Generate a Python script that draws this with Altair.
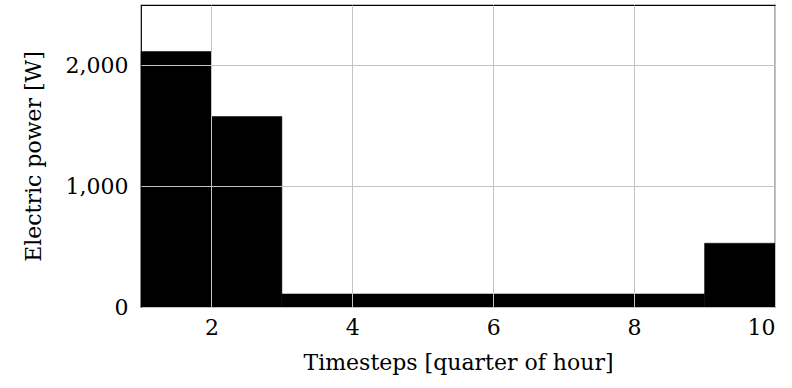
import altair as alt
import pandas as pd

# Electric power per timestep interval (quarter-hour steps)
step_start = [1, 2, 3, 9]
step_end = [2, 3, 9, 10]
power_w = [2115, 1577, 108, 528]

x_ticks = [2, 4, 6, 8, 10]
y_ticks = [0, 1000, 2000]

df = pd.DataFrame({"start": step_start, "end": step_end, "power": power_w})

FONT = "DejaVu Serif"
axis_style = dict(
    grid=True,
    gridColor="#c4c4c4",
    gridWidth=1,
    domain=False,
    ticks=False,
    labelFont=FONT,
    titleFont=FONT,
    labelFontSize=22,
    titleFontSize=22,
    labelColor="black",
    titleColor="black",
    titleFontWeight="normal",
    zindex=1,
)

bars = alt.Chart(df).mark_rect(color="black", stroke="black", strokeWidth=0.5).encode(
    x=alt.X(
        "start:Q",
        scale=alt.Scale(domain=[1, 10], nice=False, zero=False),
        axis=alt.Axis(
            values=x_ticks,
            title="Timesteps [quarter of hour]",
            labelPadding=10,
            titlePadding=14,
            **axis_style,
        ),
    ),
    x2="end:Q",
    y=alt.Y(
        "power:Q",
        scale=alt.Scale(domain=[0, 2500], nice=False),
        axis=alt.Axis(
            values=y_ticks,
            format=",d",
            title="Electric power [W]",
            labelPadding=13,
            titlePadding=20,
            **axis_style,
        ),
    ),
    y2=alt.datum(0),
)

chart = (
    bars.properties(
        width=634,
        height=302,
        background="white",
        autosize=alt.AutoSizeParams(type="none"),
        padding={"left": 141, "top": 5, "right": 17, "bottom": 81},
    )
    .configure_view(stroke="black", strokeWidth=1.2)
)

chart.save("out.html", embed_options={"renderer": "svg", "actions": False})
